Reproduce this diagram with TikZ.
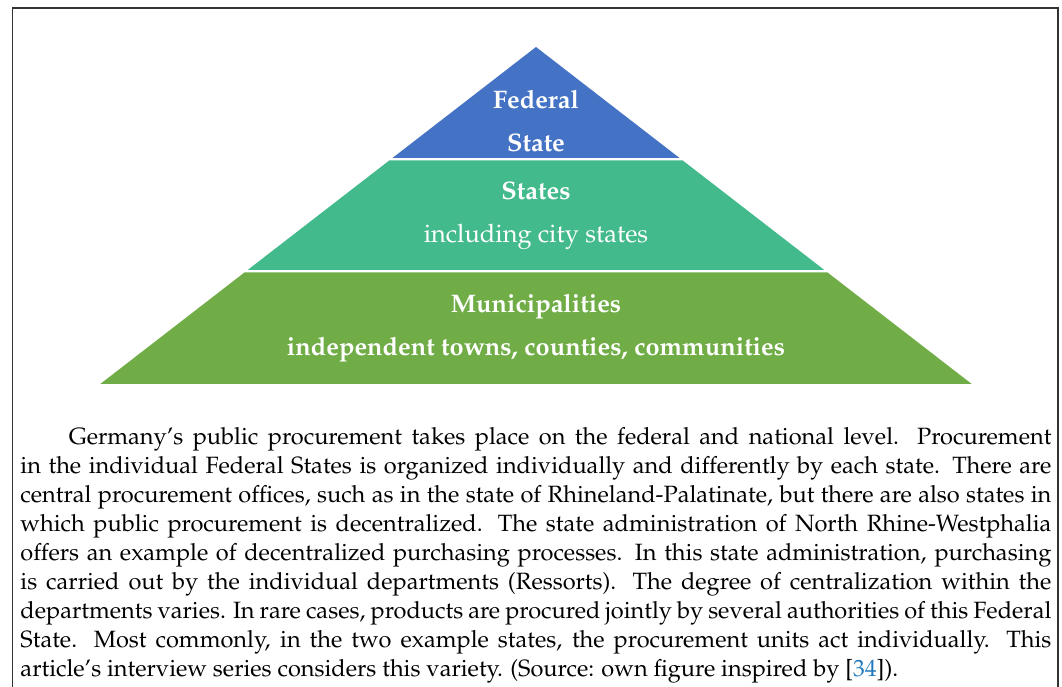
\documentclass[tikz,border=0pt]{standalone}
\usepackage[T1]{fontenc}
\usepackage{mathpazo}
\usetikzlibrary{positioning}
\definecolor{fedblue}{RGB}{68,114,196}
\definecolor{landgreen}{RGB}{67,186,140}
\definecolor{munigreen}{RGB}{112,173,71}
\definecolor{citeblue}{RGB}{30,120,190}

\begin{document}
\begin{tikzpicture}[x=0.4138pt,y=-0.4138pt,
  bandtext/.style={text=white,font=\fontsize{10.5}{17.8}\selectfont\bfseries,align=center,inner sep=0pt},
  frameline/.style={draw=black!80,line width=0.6pt}]
  \useasboundingbox (0,0) rectangle (1062,687);
  % figure box, open at the bottom
  \draw[frameline] (12.5,687) |- (1058,8) -- (1058,687);
  % pyramid levels (top/bottom of each band, slope of the sides 1.293)
  \foreach \t/\b/\c in {47/158/fedblue,160.5/270/landgreen,272.5/384/munigreen}{
    \fill[\c] ({536-(\t-47)*1.293},\t) -- ({536+(\t-47)*1.293},\t) -- ({536+(\b-47)*1.293},\b) -- ({536-(\b-47)*1.293},\b) -- cycle;
  }
  \node[bandtext] (fed) at (536,121) {Federal\\State};
  \node[bandtext] (land) at (536,215.5) {States\\\mdseries including city states};
  \node[bandtext] (muni) at (536,328.5) {Municipalities\\independent towns, counties, communities};
  % caption below the box
  \node[anchor=north west,text width=426.6pt,align=justify,inner sep=0pt] (caption) at (20,427) {\fontsize{9.75}{12}\selectfont\hyphenpenalty=10000
    \hspace*{20pt}Germany's public procurement takes place on the federal and national level.  Procurement\linebreak
    in the individual Federal States is organized individually and differently by each state. There are\linebreak
    central procurement offices, such as in the state of Rhineland-Palatinate, but there are also states in\linebreak
    which public procurement is decentralized. The state administration of North Rhine-Westphalia\linebreak
    offers an example of decentralized purchasing processes. In this state administration, purchasing\linebreak
    is carried out by the individual departments (Ressorts). The degree of centralization within the\linebreak
    departments varies. In rare cases, products are procured jointly by several authorities of this Federal\linebreak
    State. Most commonly, in the two example states, the procurement units act individually. This\linebreak
    article's interview series considers this variety. (Source: own figure inspired by [\textcolor{citeblue}{34}]).\par};
\end{tikzpicture}
\end{document}
